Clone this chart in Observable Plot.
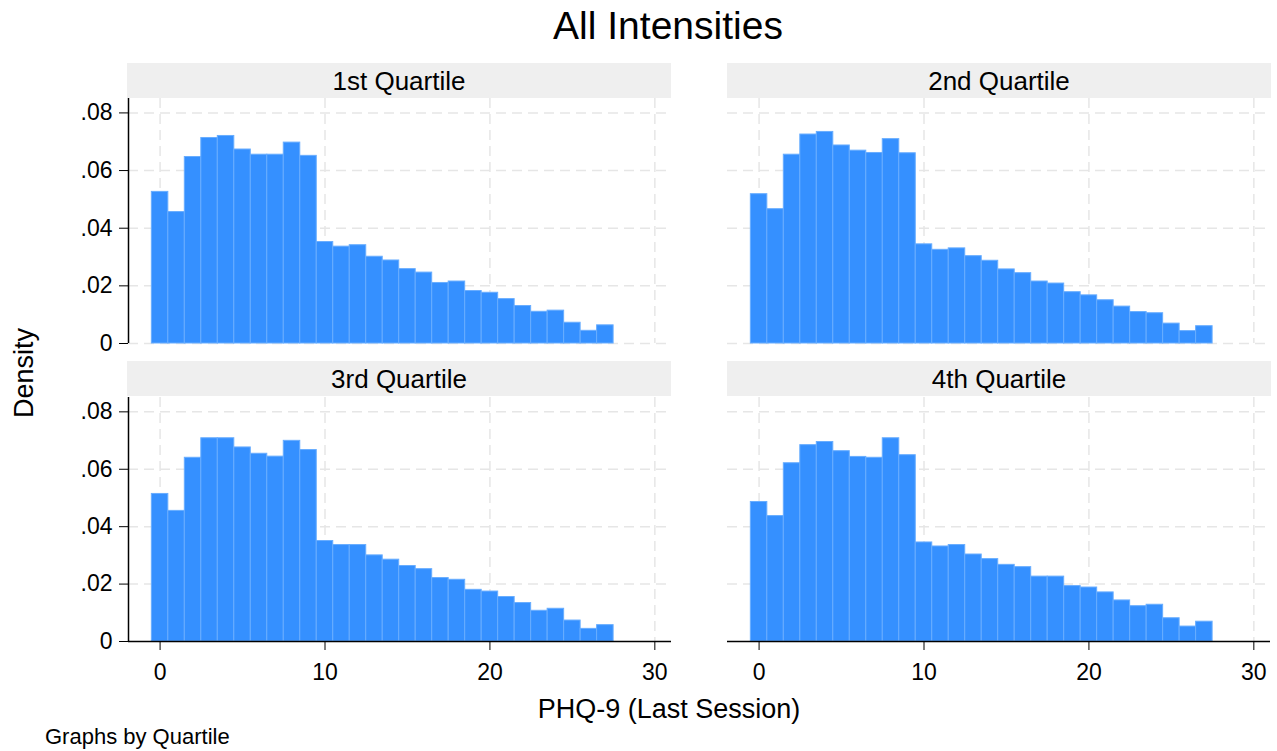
<!DOCTYPE html>
<html>
<head>
<meta charset="utf-8">
<script src="https://cdn.jsdelivr.net/npm/d3@7"></script>
<script src="https://cdn.jsdelivr.net/npm/@observablehq/plot@0.6"></script>
<style>
  html, body { margin: 0; padding: 0; background: #ffffff; }
  #chart { position: relative; width: 1277px; height: 751px; background: #ffffff; overflow: hidden;
           font-family: "Liberation Sans", Arial, sans-serif; }
  #chart > svg, #chart > .panel { position: absolute; }
</style>
</head>
<body>
<div id="chart"></div>
<script>
// ---- Data ----
const bins = [0,1,2,3,4,5,6,7,8,9,10,11,12,13,14,15,16,17,18,19,20,21,22,23,24,25,26,27];
const quartiles = ["1st Quartile", "2nd Quartile", "3rd Quartile", "4th Quartile"];
const q1 = [0.0526,0.0456,0.0647,0.0713,0.0720,0.0673,0.0655,0.0655,0.0697,0.0651,0.0352,0.0336,0.0341,0.0301,0.0288,0.0258,0.0246,0.0210,0.0215,0.0182,0.0176,0.0154,0.0130,0.0110,0.0114,0.0072,0.0044,0.0063];
const q2 = [0.0518,0.0466,0.0655,0.0725,0.0734,0.0687,0.0669,0.0661,0.0709,0.0660,0.0344,0.0325,0.0330,0.0303,0.0287,0.0257,0.0244,0.0215,0.0208,0.0178,0.0167,0.0150,0.0128,0.0109,0.0105,0.0069,0.0043,0.0060];
const q3 = [0.0514,0.0455,0.0640,0.0708,0.0708,0.0676,0.0654,0.0644,0.0699,0.0667,0.0350,0.0336,0.0336,0.0300,0.0285,0.0263,0.0252,0.0221,0.0215,0.0180,0.0174,0.0155,0.0134,0.0107,0.0114,0.0073,0.0044,0.0057];
const q4 = [0.0486,0.0437,0.0621,0.0684,0.0695,0.0663,0.0643,0.0640,0.0708,0.0649,0.0345,0.0331,0.0336,0.0303,0.0287,0.0267,0.0259,0.0226,0.0226,0.0193,0.0188,0.0171,0.0143,0.0123,0.0128,0.0081,0.0052,0.0069];
const yTicks = [0, 0.02, 0.04, 0.06, 0.08];
const yTickLabels = ["0", ".02", ".04", ".06", ".08"];
const xTicks = [0, 10, 20, 30];
const titleText = "All Intensities";
const xLabel = "PHQ-9 (Last Session)";
const yLabel = "Density";
const noteText = "Graphs by Quartile";

// ---- Styling / layout ----
const FONT = '"Liberation Sans", Arial, sans-serif';
const BAR_FILL = "#3590ff";
const BAR_EDGE = "#68adff";
const GRID = "#e6e6e6";
const X_DOMAIN = [-1.915, 31.01];
const Y_DOMAIN = [0, 0.085];
const PLOT_W = 543;

const chart = document.getElementById("chart");

// Background overlay: title, headers, axis titles, note
const overlay = d3.create("svg")
  .attr("width", 1277).attr("height", 751)
  .style("left", "0px").style("top", "0px")
  .style("font-family", FONT);

overlay.append("text").attr("x", 668).attr("y", 39)
  .attr("text-anchor", "middle").attr("font-size", 39).attr("fill", "#000")
  .text(titleText);

const headers = [
  {label: quartiles[0], x: 127, y: 63},
  {label: quartiles[1], x: 727, y: 63},
  {label: quartiles[2], x: 127, y: 361},
  {label: quartiles[3], x: 727, y: 361}
];
for (const h of headers) {
  overlay.append("rect").attr("x", h.x).attr("y", h.y).attr("width", 544).attr("height", 35)
    .attr("fill", "#efefef");
  overlay.append("text").attr("x", h.x + 272).attr("y", h.y + 27)
    .attr("text-anchor", "middle").attr("font-size", 26).attr("fill", "#000")
    .text(h.label);
}

overlay.append("text").attr("transform", "translate(33,373) rotate(-90)")
  .attr("text-anchor", "middle").attr("font-size", 27).attr("fill", "#000")
  .text(yLabel);
overlay.append("text").attr("x", 669).attr("y", 718)
  .attr("text-anchor", "middle").attr("font-size", 27).attr("fill", "#000")
  .text(xLabel);
overlay.append("text").attr("x", 45).attr("y", 744)
  .attr("text-anchor", "start").attr("font-size", 22).attr("fill", "#000")
  .text(noteText);

chart.appendChild(overlay.node());

function makePanel(values, col, row) {
  const isLeft = col === 0, isBottom = row === 1;
  const plotH = isBottom ? 244 : 245;
  const mL = isLeft ? 128 : 0;
  const mR = 8;
  const mB = isBottom ? 60 : 6;
  const data = bins.map((b, i) => ({bin: b, v: values[i]}));
  const marks = [
    Plot.gridY(isBottom ? yTicks.filter(d => d > 0) : yTicks, {
      stroke: GRID, strokeOpacity: 1, strokeWidth: 1.5, strokeDasharray: "10,6"
    }),
    Plot.gridX(xTicks, {
      stroke: GRID, strokeOpacity: 1, strokeWidth: 1.5, strokeDasharray: "10,6"
    }),
    Plot.rect(data, {
      x1: d => d.bin - 0.5, x2: d => d.bin + 0.5, y1: 0, y2: "v",
      fill: BAR_FILL, stroke: BAR_EDGE, strokeWidth: 1
    })
  ];
  if (isLeft) {
    marks.push(Plot.axisY(yTicks, {
      tickSize: 9, tickPadding: 7, fontSize: 23, label: null,
      tickFormat: d => yTickLabels[yTicks.indexOf(d)], stroke: "#000", fill: "#000"
    }));
    marks.push(Plot.ruleX([X_DOMAIN[0]], {stroke: "#000", strokeWidth: 1.5}));
  } else {
    marks.push(Plot.axisY({ticks: [], label: null}));
  }
  if (isBottom) {
    marks.push(Plot.axisX(xTicks, {
      tickSize: 9, tickPadding: 13, fontSize: 23, label: null, stroke: "#000", fill: "#000"
    }));
    marks.push(Plot.ruleY([0], {stroke: "#000", strokeWidth: 1.5}));
  } else {
    marks.push(Plot.axisX({ticks: [], label: null}));
  }
  const svg = Plot.plot({
    width: mL + PLOT_W + mR,
    height: plotH + mB,
    marginLeft: mL, marginRight: mR, marginTop: 0, marginBottom: mB,
    x: {domain: X_DOMAIN},
    y: {domain: Y_DOMAIN},
    style: {fontFamily: FONT, background: "transparent", color: "#000", overflow: "visible"},
    marks
  });
  svg.style.position = "absolute";
  svg.style.left = (isLeft ? 0 : 727) + "px";
  svg.style.top = (isBottom ? 397 : 98) + "px";
  chart.appendChild(svg);
}

makePanel(q1, 0, 0);
makePanel(q2, 1, 0);
makePanel(q3, 0, 1);
makePanel(q4, 1, 1);
</script>
</body>
</html>
